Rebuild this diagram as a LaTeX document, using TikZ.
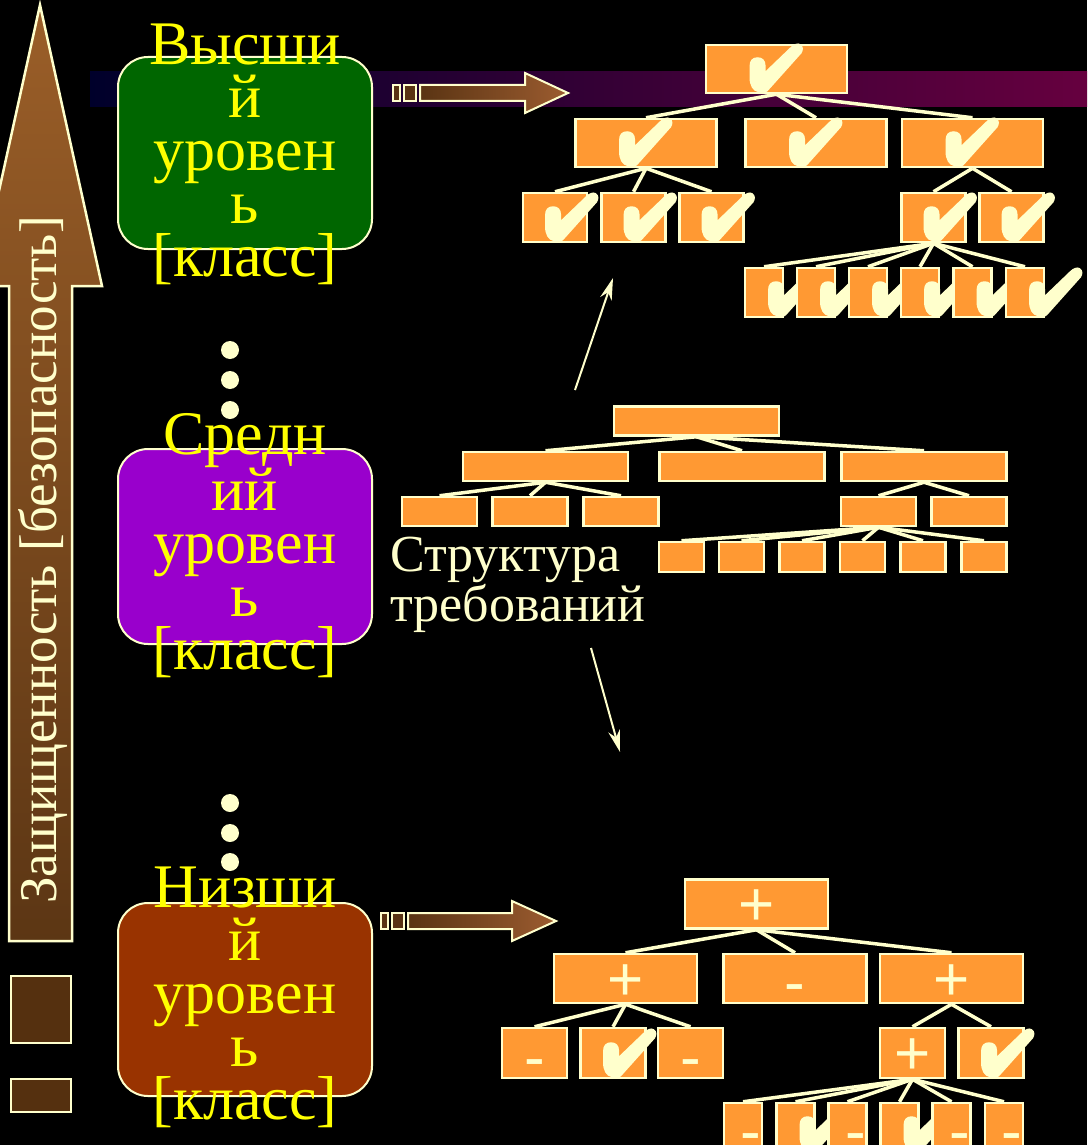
\documentclass[tikz,border=0pt]{standalone}
\usepackage{fontspec}
\setmainfont{Liberation Serif}
\newfontfamily\signfont{Liberation Sans}
\usetikzlibrary{arrows.meta}
\pgfdeclarelayer{bgl}
\pgfdeclarelayer{wires}
\pgfsetlayers{bgl,wires,main}

\definecolor{cream}{HTML}{FFFFCC}
\definecolor{boxorange}{HTML}{FF9933}
\definecolor{lvlgreen}{HTML}{006600}
\definecolor{lvlpurple}{HTML}{9900CC}
\definecolor{lvlbrown}{HTML}{993300}
\definecolor{lbl}{HTML}{FFFF00}
\definecolor{arrdark}{HTML}{5A3413}
\definecolor{arrlight}{HTML}{9C5C30}
\definecolor{axtop}{HTML}{9A5E28}
\definecolor{axbot}{HTML}{5C3614}
\definecolor{sqfill}{HTML}{55300F}
\definecolor{bandA}{HTML}{00002B}
\definecolor{bandB}{HTML}{1E0038}
\definecolor{bandC}{HTML}{66003F}

\tikzset{
  ob/.style={rectangle, draw=cream, fill=boxorange, line width=2.5pt, inner sep=0pt},
  tA/.style={ob, minimum width=141pt, minimum height=48pt},
  tB/.style={ob, minimum width=64pt, minimum height=49pt},
  tC/.style={ob, minimum width=38pt, minimum height=49pt},
  mA/.style={ob, minimum width=165pt, minimum height=29pt},
  mB/.style={ob, minimum width=75pt, minimum height=29pt},
  mC/.style={ob, minimum width=45pt, minimum height=30pt},
  bA/.style={ob, minimum width=143pt, minimum height=49pt},
  bB/.style={ob, minimum width=65pt, minimum height=50pt},
  bC/.style={ob, minimum width=38pt, minimum height=49pt},
  conn/.style={draw=cream, line width=3.5pt},
  lvl/.style={rectangle, rounded corners=30pt, draw=cream, line width=2pt,
    minimum width=254pt, inner sep=0pt},
  lvltxt/.style={anchor=north, inner sep=0pt, align=center, text=lbl,
    font=\fontsize{62}{53}\selectfont},
  sgn/.style={anchor=base, inner sep=0pt, text=cream,
    font=\signfont\fontsize{62}{62}\selectfont},
  dot/.style={circle, fill=cream, inner sep=0pt, minimum size=18pt},
  sq/.style={rectangle, draw=cream, fill=sqfill, line width=2.5pt, inner sep=0pt,
    minimum width=60pt},
  thinarrow/.style={draw=cream, line width=2pt,
    -{Stealth[length=22pt, width=12pt, inset=7pt]}},
  blockarrow/.style={left color=arrdark, right color=arrlight, draw=cream, line width=2pt},
  chk/.pic={
    \fill[cream] (-18,0) .. controls (-24,-1) and (-27,-7) .. (-27,-15)
      -- (-27,-26) .. controls (-27,-32) and (-24,-35) .. (-19,-35)
      .. controls (-14,-35) and (-11,-32) .. (-11,-27)
      -- (-11,-21) -- (14,-45)
      .. controls (17,-48) and (21,-50) .. (24,-48)
      .. controls (27,-46) and (27,-42) .. (25,-39)
      -- (-9,-1) .. controls (-11,1) and (-15,1) .. (-18,0) -- cycle;
  }
}

\begin{document}
\begin{tikzpicture}[x=1pt, y=-1pt]
\useasboundingbox (0,0) rectangle (1087,1145);

\begin{pgfonlayer}{bgl}
  % black ground and the coloured band behind the upper tree
  \fill[black] (0,0) rectangle (1087,1145);
  \shade[left color=bandA, middle color=bandB, right color=bandC] (90,72) rectangle (1087,107);
\end{pgfonlayer}

% vertical protection axis
\shadedraw[top color=axtop, bottom color=axbot, draw=cream, line width=2.5pt]
  (40,5) -- (102,286) -- (72,286) -- (72,941) -- (9,941) -- (9,286) -- (-22,286) -- cycle;
\node[rotate=90, anchor=base, inner sep=0pt, text=cream,
      font=\fontsize{53}{53}\selectfont] (axis) at (56,560) {Защищенность [безопасность]};
\node[sq, minimum height=67pt] (s1) at (41,1009.5) {};
\node[sq, minimum height=33pt] (s2) at (41,1095.5) {};

% levels
\node[lvl, fill=lvlgreen, minimum height=192pt] (hi) at (245,153) {};
\node[lvltxt] (hitxt) at (245,24) {Высши\\й\\уровен\\ь\\{}{[}класс{]}};
\node[lvl, fill=lvlpurple, minimum height=195pt] (mid) at (245,546.5) {};
\node[lvltxt] (midtxt) at (245,413) {Средн\\ий\\уровен\\ь\\{}{[}класс{]}};
\node[lvl, fill=lvlbrown, minimum height=193pt] (lo) at (245,999.5) {};
\node[lvltxt] (lotxt) at (245,867) {Низши\\й\\уровен\\ь\\{}{[}класс{]}};

% ellipsis dots between levels
\node[dot] (d1) at (230,350) {};
\node[dot] (d2) at (230,380) {};
\node[dot] (d3) at (230,410) {};
\node[dot] (d4) at (230,803) {};
\node[dot] (d5) at (230,833) {};
\node[dot] (d6) at (230,862) {};

% block arrows from the levels to their trees
\filldraw[fill=arrdark, draw=cream, line width=2pt] (393,85) rectangle (400,101);
\filldraw[fill=arrdark, draw=cream, line width=2pt] (404,85) rectangle (416,101);
\shadedraw[blockarrow] (420,85) -- (525,85) -- (525,73) -- (568,93) -- (525,113) -- (525,101) -- (420,101) -- cycle;
\filldraw[fill=arrdark, draw=cream, line width=2pt] (381,913) rectangle (388,929);
\filldraw[fill=arrdark, draw=cream, line width=2pt] (392,913) rectangle (404,929);
\shadedraw[blockarrow] (408,913) -- (512,913) -- (512,901) -- (556,921) -- (512,941) -- (512,929) -- (408,929) -- cycle;

% requirement structure label and its arrows
\node[anchor=north west, inner sep=0pt, align=left, text=cream,
      font=\fontsize{52}{42}\selectfont] (req) at (390,537) {Структура\\требований};
\coordinate (up0) at (575,390);
\coordinate (up1) at (613,278);
\coordinate (dn0) at (591,648);
\coordinate (dn1) at (620,752);
\draw[thinarrow] (up0) -- (up1);
\draw[thinarrow] (dn0) -- (dn1);

% ---------- upper tree: every requirement met ----------
\node[tA] (t0) at (776.5,69) {};
\pic at ([yshift=2pt]t0.south) {chk};
\node[tA] (t1) at (646,143) {};
\pic at ([yshift=2pt]t1.south) {chk};
\node[tA] (t2) at (816,143) {};
\pic at ([yshift=2pt]t2.south) {chk};
\node[tA] (t3) at (972.5,143) {};
\pic at ([yshift=2pt]t3.south) {chk};
\node[tB] (t11) at (555,217.5) {};
\pic at ([xshift=17pt,yshift=2pt]t11.south) {chk};
\node[tB] (t12) at (633.5,217.5) {};
\pic at ([xshift=17pt,yshift=2pt]t12.south) {chk};
\node[tB] (t13) at (711.5,217.5) {};
\pic at ([xshift=17pt,yshift=2pt]t13.south) {chk};
\node[tB] (t31) at (933.5,217.5) {};
\pic at ([xshift=17pt,yshift=2pt]t31.south) {chk};
\node[tB] (t32) at (1011.5,217.5) {};
\pic at ([xshift=17pt,yshift=2pt]t32.south) {chk};
\foreach \i/\cx in {1/764,2/816,3/868,4/920,5/972.5,6/1025}{
  \node[tC] (t31\i) at (\cx,292.5) {};
  \pic at ([xshift=31pt,yshift=2pt]t31\i.south) {chk};
}

% ---------- middle tree: empty structure ----------
\node[mA] (m0) at (696.5,421) {};
\node[mA] (m1) at (545.5,466.5) {};
\node[mA] (m2) at (742,466.5) {};
\node[mA] (m3) at (924,466.5) {};
\node[mB] (m11) at (439.5,511.5) {};
\node[mB] (m12) at (530,511.5) {};
\node[mB] (m13) at (621,511.5) {};
\node[mB] (m31) at (878.5,511.5) {};
\node[mB] (m32) at (969,511.5) {};
\foreach \i/\cx in {1/681.5,2/741.5,3/802,4/862.5,5/923,6/984}{
  \node[mC] (m31\i) at (\cx,557) {};
}

% ---------- lower tree: partial fulfilment ----------
\node[bA] (b0) at (756.5,904) {};
\node[sgn] (b0l) at ([yshift=-21.6pt]b0.center) {+};
\node[bA] (b1) at (625.5,978.5) {};
\node[sgn] (b1l) at ([yshift=-21.6pt]b1.center) {+};
\node[bA] (b2) at (795,978.5) {};
\node[sgn] (b2l) at ([yshift=-25pt]b2.center) {-};
\node[bA] (b3) at (951.5,978.5) {};
\node[sgn] (b3l) at ([yshift=-21.6pt]b3.center) {+};
\node[bB] (b11) at (534.5,1053) {};
\node[sgn] (b11l) at ([yshift=-25pt]b11.center) {-};
\node[bB] (b12) at (613,1053) {};
\pic at ([xshift=17pt,yshift=2pt]b12.south) {chk};
\node[bB] (b13) at (690.5,1053) {};
\node[sgn] (b13l) at ([yshift=-25pt]b13.center) {-};
\node[bB] (b31) at (912.5,1053) {};
\node[sgn] (b31l) at ([yshift=-21.6pt]b31.center) {+};
\node[bB] (b32) at (991,1053) {};
\pic at ([xshift=17pt,yshift=2pt]b32.south) {chk};
\node[bC] (b311) at (743,1127.5) {};
\node[sgn] (b311l) at ([xshift=8pt,yshift=-25pt]b311.center) {-};
\node[bC] (b312) at (795.5,1127.5) {};
\pic at ([xshift=31pt,yshift=2pt]b312.south) {chk};
\node[bC] (b313) at (847.5,1127.5) {};
\node[sgn] (b313l) at ([xshift=8pt,yshift=-25pt]b313.center) {-};
\node[bC] (b314) at (899.5,1127.5) {};
\pic at ([xshift=31pt,yshift=2pt]b314.south) {chk};
\node[bC] (b315) at (951.5,1127.5) {};
\node[sgn] (b315l) at ([xshift=8pt,yshift=-25pt]b315.center) {-};
\node[bC] (b316) at (1004,1127.5) {};
\node[sgn] (b316l) at ([xshift=8pt,yshift=-25pt]b316.center) {-};

% tree connectors, kept under the boxes
\begin{pgfonlayer}{wires}
  \foreach \p in {t,m,b}{
    \foreach \c in {1,2,3}{ \draw[conn] (\p0.south) -- (\p\c.north); }
    \foreach \c in {11,12,13}{ \draw[conn] (\p1.south) -- (\p\c.north); }
    \foreach \c in {31,32}{ \draw[conn] (\p3.south) -- (\p\c.north); }
    \foreach \c in {1,...,6}{ \draw[conn] (\p31.south) -- (\p31\c.north); }
  }
\end{pgfonlayer}
\end{tikzpicture}
\end{document}
